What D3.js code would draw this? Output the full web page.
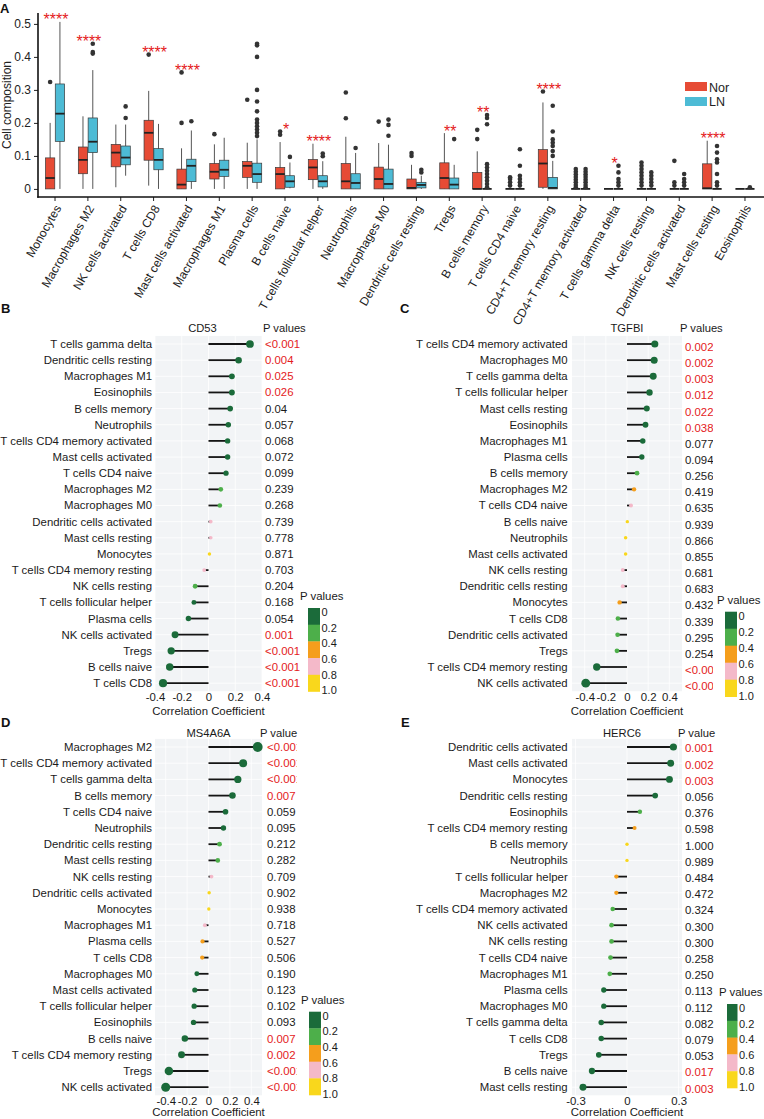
<!DOCTYPE html>
<html>
<head>
<meta charset="utf-8">
<script src="https://cdn.jsdelivr.net/npm/d3@7"></script>
<style>
  body { margin: 0; background: #fff; }
  svg { display: block; font-family: "Liberation Sans", Arial, sans-serif; }
</style>
</head>
<body>
<svg id="fig" width="764" height="1119"></svg>
<script>
// ---------- panel A : immune cell composition, Nor vs LN ----------
var cellTypes = ["Monocytes", "Macrophages M2", "NK cells activated", "T cells CD8", "Mast cells activated",
  "Macrophages M1", "Plasma cells", "B cells naive", "T cells follicular helper", "Neutrophils",
  "Macrophages M0", "Dendritic cells resting", "Tregs", "B cells memory", "T cells CD4 naive",
  "CD4+T memory resting", "CD4+T memory activated", "T cells gamma delta", "NK cells resting",
  "Dendritic cells activated", "Mast cells resting", "Eosinophils"];

// [lower whisker, q1, median, q3, upper whisker]
var norBox = [
  [0, 0, 0.033, 0.094, 0.2], [0, 0.046, 0.088, 0.127, 0.22], [0.005, 0.067, 0.11, 0.135, 0.195],
  [0.01, 0.087, 0.17, 0.208, 0.297], [0, 0, 0.013, 0.06, 0.123], [0, 0.03, 0.052, 0.077, 0.135],
  [0, 0.035, 0.07, 0.083, 0.14], [0, 0, 0.045, 0.065, 0.142], [0, 0.028, 0.065, 0.089, 0.137],
  [0, 0, 0.023, 0.077, 0.158], [0, 0, 0.03, 0.066, 0.139], [0, 0, 0.003, 0.03, 0.073],
  [0, 0, 0.033, 0.079, 0.169], [0, 0, 0, 0.05, 0.114], [0, 0, 0, 0, 0],
  [0, 0.005, 0.077, 0.119, 0.262], [0, 0, 0, 0, 0], [0, 0, 0, 0, 0], [0, 0, 0, 0, 0],
  [0, 0, 0, 0, 0], [0, 0, 0.002, 0.076, 0.146], [0, 0, 0, 0, 0]];
var lnBox = [
  [0, 0.144, 0.228, 0.318, 0.506], [0, 0.11, 0.143, 0.215, 0.36], [0.04, 0.073, 0.095, 0.13, 0.195],
  [0, 0.058, 0.088, 0.122, 0.197], [0, 0.022, 0.07, 0.09, 0.177], [0, 0.038, 0.058, 0.087, 0.155],
  [0, 0.02, 0.045, 0.078, 0.15], [0.002, 0.005, 0.023, 0.04, 0.08], [0, 0.006, 0.023, 0.04, 0.084],
  [0, 0, 0.018, 0.046, 0.109], [0, 0, 0.015, 0.06, 0.134], [0, 0.003, 0.012, 0.02, 0.04],
  [0, 0, 0.013, 0.033, 0.073], [0, 0, 0, 0, 0], [0, 0, 0, 0, 0],
  [0, 0, 0.003, 0.035, 0.085], [0, 0, 0, 0, 0], [0, 0, 0, 0, 0], [0, 0, 0, 0, 0],
  [0, 0, 0, 0, 0], [0, 0, 0, 0, 0], [0, 0, 0, 0, 0]];
var norOut = [[0.324], [], [], [0.407], [0.2, 0.353], [0.166], [0.27], [0.164, 0.174], [], [0.214, 0.292],
  [0.204], [0.1, 0.109], [], [0.151, 0.179], [0.01, 0.02, 0.03, 0.035], [0.295],
  [0.005, 0.012, 0.02, 0.028, 0.036, 0.044, 0.052, 0.06], [], [0.01, 0.02, 0.03, 0.04, 0.05, 0.06, 0.07, 0.08],
  [0.01, 0.02, 0.085], [], []];
var lnOut = [[], [0.41, 0.415, 0.44], [0.215, 0.25], [], [0.205], [],
  [0.16, 0.17, 0.18, 0.19, 0.2, 0.21, 0.235, 0.265, 0.3, 0.4, 0.435, 0.44], [0.097], [0.099, 0.107], [0.124],
  [0.161, 0.194, 0.21], [0.05, 0.058], [0.151],
  [0.005, 0.015, 0.025, 0.035, 0.045, 0.055, 0.065, 0.075, 0.196, 0.215, 0.224],
  [0.01, 0.02, 0.03, 0.04, 0.07, 0.12], [0.1, 0.115, 0.13, 0.14, 0.15, 0.174, 0.252],
  [0.005, 0.012, 0.02, 0.028, 0.036, 0.044, 0.052, 0.06], [0.01, 0.02, 0.03, 0.05, 0.07],
  [0.01, 0.02, 0.03, 0.04, 0.05], [0.01, 0.02, 0.03, 0.045], [0.01, 0.02, 0.045, 0.08, 0.09, 0.11, 0.13], [0.005]];
var sigStars = ["****", "****", "", "****", "****", "", "", "*", "****", "", "", "", "**", "**", "",
  "****", "", "*", "", "", "****", ""];
var groups = ["Nor", "LN"];
var yTicksA = [0, 0.1, 0.2, 0.3, 0.4, 0.5];

// ---------- panels B-E : correlation lollipops ----------
var cd53Cells = ["T cells gamma delta", "Dendritic cells resting", "Macrophages M1", "Eosinophils", "B cells memory",
  "Neutrophils", "T cells CD4 memory activated", "Mast cells activated", "T cells CD4 naive", "Macrophages M2",
  "Macrophages M0", "Dendritic cells activated", "Mast cells resting", "Monocytes", "T cells CD4 memory resting",
  "NK cells resting", "T cells follicular helper", "Plasma cells", "NK cells activated", "Tregs", "B cells naive", "T cells CD8"];
var cd53Cor = [0.31, 0.225, 0.175, 0.175, 0.162, 0.148, 0.143, 0.143, 0.131, 0.092, 0.085, 0.017, 0.017, 0.007,
  -0.032, -0.1, -0.109, -0.15, -0.25, -0.279, -0.29, -0.34];
var cd53P = ["<0.001", "0.004", "0.025", "0.026", "0.04", "0.057", "0.068", "0.072", "0.099", "0.239", "0.268",
  "0.739", "0.778", "0.871", "0.703", "0.204", "0.168", "0.054", "0.001", "<0.001", "<0.001", "<0.001"];
var cd53Red = [1, 1, 1, 1, 0, 0, 0, 0, 0, 0, 0, 0, 0, 0, 0, 0, 0, 0, 1, 1, 1, 1];

var tgfbiCells = ["T cells CD4 memory activated", "Macrophages M0", "T cells gamma delta", "T cells follicular helper",
  "Mast cells resting", "Eosinophils", "Macrophages M1", "Plasma cells", "B cells memory", "Macrophages M2",
  "T cells CD4 naive", "B cells naive", "Neutrophils", "Mast cells activated", "NK cells resting",
  "Dendritic cells resting", "Monocytes", "T cells CD8", "Dendritic cells activated", "Tregs",
  "T cells CD4 memory resting", "NK cells activated"];
var tgfbiCor = [0.263, 0.257, 0.248, 0.213, 0.187, 0.175, 0.149, 0.14, 0.095, 0.067, 0.038, 0.003, -0.013, -0.013,
  -0.04, -0.04, -0.07, -0.086, -0.089, -0.095, -0.286, -0.39];
var tgfbiP = ["0.002", "0.002", "0.003", "0.012", "0.022", "0.038", "0.077", "0.094", "0.256", "0.419", "0.635",
  "0.939", "0.866", "0.855", "0.681", "0.683", "0.432", "0.339", "0.295", "0.254", "<0.001", "<0.001"];
var tgfbiRed = [1, 1, 1, 1, 1, 1, 0, 0, 0, 0, 0, 0, 0, 0, 0, 0, 0, 0, 0, 0, 1, 1];

var ms4Cells = ["Macrophages M2", "T cells CD4 memory activated", "T cells gamma delta", "B cells memory",
  "T cells CD4 naive", "Neutrophils", "Dendritic cells resting", "Mast cells resting", "NK cells resting",
  "Dendritic cells activated", "Monocytes", "Macrophages M1", "Plasma cells", "T cells CD8", "Macrophages M0",
  "Mast cells activated", "T cells follicular helper", "Eosinophils", "B cells naive", "T cells CD4 memory resting",
  "Tregs", "NK cells activated"];
var ms4Cor = [0.46, 0.324, 0.274, 0.224, 0.159, 0.14, 0.103, 0.087, 0.028, 0.006, 0.003, -0.034, -0.056, -0.059,
  -0.109, -0.128, -0.134, -0.14, -0.221, -0.252, -0.37, -0.4];
var ms4P = ["<0.001", "<0.001", "<0.001", "0.007", "0.059", "0.095", "0.212", "0.282", "0.709", "0.902", "0.938",
  "0.718", "0.527", "0.506", "0.190", "0.123", "0.102", "0.093", "0.007", "0.002", "<0.001", "<0.001"];
var ms4Red = [1, 1, 1, 1, 0, 0, 0, 0, 0, 0, 0, 0, 0, 0, 0, 0, 0, 0, 1, 1, 1, 1];

var herc6Cells = ["Dendritic cells activated", "Mast cells activated", "Monocytes", "Dendritic cells resting",
  "Eosinophils", "T cells CD4 memory resting", "B cells memory", "Neutrophils", "T cells follicular helper",
  "Macrophages M2", "T cells CD4 memory activated", "NK cells activated", "NK cells resting", "T cells CD4 naive",
  "Macrophages M1", "Plasma cells", "Macrophages M0", "T cells gamma delta", "T cells CD8", "Tregs",
  "B cells naive", "Mast cells resting"];
var herc6Cor = [0.27, 0.254, 0.247, 0.164, 0.075, 0.044, 0.0, 0.0, -0.062, -0.062, -0.083, -0.09, -0.09, -0.096,
  -0.1, -0.135, -0.135, -0.15, -0.15, -0.164, -0.204, -0.256];
var herc6P = ["0.001", "0.002", "0.003", "0.056", "0.376", "0.598", "1.000", "0.989", "0.484", "0.472", "0.324",
  "0.300", "0.300", "0.258", "0.250", "0.113", "0.112", "0.082", "0.079", "0.053", "0.017", "0.003"];
var herc6Red = [1, 1, 1, 0, 0, 0, 0, 0, 0, 0, 0, 0, 0, 0, 0, 0, 0, 0, 0, 0, 1, 1];

var pBreaks = ["0", "0.2", "0.4", "0.6", "0.8", "1.0"];

// ---------- drawing ----------
var svg = d3.select("#fig");
var red = "#E41A1C";
var boxFill = ["#E64B35", "#4DBBD5"];
var pColors = ["#1B6B3A", "#4DAF4A", "#F59E1C", "#F4B9C9", "#F9D71C"];
var pColor = d3.scaleThreshold().domain([0.2, 0.4, 0.6, 0.8]).range(pColors);

// panel A
var xA = d3.scaleBand().domain(cellTypes).range([38.6, 761.4]);
var yA = d3.scaleLinear().domain([-0.0245, 0.533]).range([197, 13]);
var sub = d3.scaleBand().domain(groups).range([-9.8, 9.8]);
var bw = sub.bandwidth() * 0.95;

var gA = svg.append("g");

cellTypes.forEach(function(c, i) {
  [norBox[i], lnBox[i]].forEach(function(s, gi) {
    var cx = xA(c) + xA.bandwidth() / 2 + sub(groups[gi]) + sub.bandwidth() / 2;
    var outs = gi === 0 ? norOut[i] : lnOut[i];
    // whiskers
    gA.append("line").attr("x1", cx).attr("x2", cx).attr("y1", yA(s[0])).attr("y2", yA(s[4]))
      .attr("stroke", "#555").attr("stroke-width", 1);
    // box
    gA.append("rect").attr("x", cx - bw / 2).attr("width", bw)
      .attr("y", yA(s[3])).attr("height", Math.max(0, yA(s[1]) - yA(s[3])))
      .attr("fill", boxFill[gi]).attr("stroke", "#3a3a3a").attr("stroke-width", 0.7);
    gA.append("line").attr("x1", cx - bw / 2).attr("x2", cx + bw / 2)
      .attr("y1", yA(s[2])).attr("y2", yA(s[2])).attr("stroke", "#222").attr("stroke-width", 1.8);
    // outliers
    gA.selectAll(null).data(outs).enter().append("circle")
      .attr("cx", cx).attr("cy", function(d) { return yA(d); }).attr("r", 2.3).attr("fill", "#333");
  });
  if (sigStars[i]) {
    var mx = d3.max([norBox[i][4], lnBox[i][4]].concat(norOut[i], lnOut[i]));
    gA.append("text").attr("x", xA(c) + xA.bandwidth() / 2 + 1).attr("y", yA(mx) + 3.5)
      .attr("text-anchor", "middle").attr("font-size", 16).attr("fill", red).text(sigStars[i]);
  }
});

// axes A
var yAxisA = gA.append("g").attr("transform", "translate(38,0)")
  .call(d3.axisLeft(yA).tickValues(yTicksA).tickSize(4).tickSizeOuter(0)
    .tickFormat(function(d) { return d === 0 ? "0" : d3.format(".1f")(d); }));
yAxisA.select(".domain").remove();
yAxisA.selectAll("text").attr("font-size", 12).attr("fill", "#222").attr("font-family", "Liberation Sans, Arial");
yAxisA.selectAll("line").attr("stroke", "#222");

var xAxisA = gA.append("g").attr("transform", "translate(0,197)")
  .call(d3.axisBottom(xA).tickSize(4).tickSizeOuter(0));
xAxisA.select(".domain").remove();
xAxisA.selectAll("line").attr("stroke", "#222");
xAxisA.selectAll("text").attr("x", 0).attr("y", 0).attr("dy", "0.35em")
  .attr("text-anchor", "end").attr("transform", "translate(3,9) rotate(-60)")
  .attr("font-size", 12).attr("fill", "#222").attr("font-family", "Liberation Sans, Arial");

gA.append("line").attr("x1", 38).attr("x2", 38).attr("y1", 13).attr("y2", 197.8)
  .attr("stroke", "#111").attr("stroke-width", 1.6);
gA.append("line").attr("x1", 37.2).attr("x2", 764).attr("y1", 197).attr("y2", 197)
  .attr("stroke", "#111").attr("stroke-width", 1.6);

gA.append("text").attr("transform", "translate(11,105) rotate(-90)").attr("text-anchor", "middle")
  .attr("font-size", 12).attr("fill", "#222").text("Cell composition");

// legend A
groups.forEach(function(g, gi) {
  gA.append("rect").attr("x", 685).attr("y", 82 + gi * 15).attr("width", 22).attr("height", 9)
    .attr("fill", boxFill[gi]);
  gA.append("text").attr("x", 709).attr("y", 91.5 + gi * 14.5).attr("font-size", 12.5)
    .attr("fill", "#222").text(g);
});

// panel letters
function letter(t, x, y) {
  svg.append("text").attr("x", x).attr("y", y).attr("font-size", 13).attr("font-weight", "bold")
    .attr("fill", "#111").text(t);
}
letter("A", 0, 13);

// lollipop panels
function lollipop(p) {
  var g = svg.append("g");
  var n = p.cells.length;
  var yS = d3.scaleBand().domain(p.cells).range([p.y0 - p.step / 2, p.y0 - p.step / 2 + p.step * n]);
  var xS = d3.scaleLinear().domain(p.domain).range(p.xr);
  var r = d3.scaleLinear().domain([0, 0.5]).range([1.7, 5.2]);
  var top = yS.range()[0], bot = yS.range()[1];
  var yc = function(c) { return yS(c) + yS.bandwidth() / 2; };

  g.append("rect").attr("x", p.xr[0]).attr("y", top).attr("width", p.xr[1] - p.xr[0])
    .attr("height", bot - top).attr("fill", "#F2F4F6");
  g.selectAll(null).data(p.cells).enter().append("line")
    .attr("x1", p.xr[0]).attr("x2", p.xr[1])
    .attr("y1", function(c) { return yc(c); }).attr("y2", function(c) { return yc(c); })
    .attr("stroke", "#fff").attr("stroke-width", 0.8);
  g.selectAll(null).data(p.ticks).enter().append("line")
    .attr("x1", function(d) { return xS(d); }).attr("x2", function(d) { return xS(d); })
    .attr("y1", top).attr("y2", bot).attr("stroke", "#fff").attr("stroke-width", 0.8);

  // stems and dots
  p.cells.forEach(function(c, i) {
    g.append("line").attr("x1", xS(0)).attr("x2", xS(p.cor[i])).attr("y1", yc(c)).attr("y2", yc(c))
      .attr("stroke", "#151515").attr("stroke-width", 1.8);
  });
  p.cells.forEach(function(c, i) {
    var pv = +p.pText[i].replace("<", "");
    g.append("circle").attr("cx", xS(p.cor[i])).attr("cy", yc(c)).attr("r", r(Math.abs(p.cor[i])))
      .attr("fill", pColor(pv));
  });

  // row labels
  g.selectAll(null).data(p.cells).enter().append("text")
    .attr("x", p.labelX).attr("y", function(c) { return yc(c); }).attr("dy", "0.35em")
    .attr("text-anchor", "end").attr("font-size", 11.4).attr("fill", "#1a1a1a")
    .text(function(c) { return c; });

  // p values
  var clipId = "clip" + p.letter;
  g.append("clipPath").attr("id", clipId).append("rect")
    .attr("x", p.pX - 5).attr("y", top - 30).attr("width", p.clipX - p.pX + 5).attr("height", bot - top + 60);
  g.append("g").attr("clip-path", "url(#" + clipId + ")")
    .selectAll("text").data(p.pText).enter().append("text")
    .attr("x", p.pX).attr("y", function(d, i) { return yc(p.cells[i]) + p.pDy; }).attr("dy", "0.35em")
    .attr("font-size", 11.4).attr("fill", function(d, i) { return p.red[i] ? red : "#1a1a1a"; })
    .text(function(d) { return d; });

  // headers
  g.append("text").attr("x", (p.xr[0] + p.xr[1]) / 2 + p.titleDx).attr("y", p.titleY)
    .attr("text-anchor", "middle").attr("font-size", 11.2).attr("fill", "#1a1a1a").text(p.title);
  g.append("text").attr("x", p.headerX).attr("y", p.titleY)
    .attr("font-size", 11.2).attr("fill", "#1a1a1a").text(p.header);

  // x axis
  var ax = g.append("g").attr("transform", "translate(0," + bot + ")")
    .call(d3.axisBottom(xS).tickValues(p.ticks).tickSize(0).tickPadding(1.5)
      .tickFormat(function(d) { return d === 0 ? "0" : String(d); }));
  ax.select(".domain").remove();
  ax.selectAll("text").attr("font-size", 11.4).attr("fill", "#1a1a1a")
    .attr("font-family", "Liberation Sans, Arial");
  g.append("text").attr("x", (p.xr[0] + p.xr[1]) / 2).attr("y", Math.min(bot + 23.5, 1115.5))
    .attr("text-anchor", "middle").attr("font-size", 11.4).attr("fill", "#1a1a1a")
    .text("Correlation Coefficient");

  // p value legend
  var L = p.leg, bh = L.h / pColors.length;
  g.append("text").attr("x", L.x - 8).attr("y", L.top - 8).attr("font-size", 11.4)
    .attr("fill", "#1a1a1a").text("P values");
  g.selectAll(null).data(pColors).enter().append("rect")
    .attr("x", L.x).attr("y", function(d, i) { return L.top + i * bh; })
    .attr("width", L.w).attr("height", bh + 0.3).attr("fill", function(d) { return d; });
  g.selectAll(null).data(pBreaks).enter().append("text")
    .attr("x", L.x + L.w + 1.5).attr("y", function(d, i) { return L.top + 4 + i * (L.h - 5) / 5; })
    .attr("dy", "0.35em").attr("font-size", 11).attr("fill", "#1a1a1a").text(function(d) { return d; });

  letter(p.letter, p.lx, p.ly);
}

lollipop({ cells: cd53Cells, cor: cd53Cor, pText: cd53P, red: cd53Red, title: "CD53", header: "P values",
  xr: [155, 262], domain: [-0.4, 0.4], ticks: [-0.4, -0.2, 0, 0.2, 0.4], y0: 344, step: 16.15,
  labelX: 152, titleY: 332, titleDx: -6, headerX: 263, pX: 265, pDy: 0, clipX: 380,
  leg: { x: 308, top: 608, h: 83.5, w: 12 }, letter: "B", lx: 1, ly: 313 });

lollipop({ cells: tgfbiCells, cor: tgfbiCor, pText: tgfbiP, red: tgfbiRed, title: "TGFBI", header: "P values",
  xr: [572, 682], domain: [-0.52, 0.52], ticks: [-0.4, -0.2, 0, 0.2, 0.4], y0: 344, step: 16.15,
  labelX: 567.7, titleY: 332, titleDx: 0, headerX: 680, pX: 685, pDy: 3, clipX: 713,
  leg: { x: 725, top: 611.7, h: 85, w: 12 }, letter: "C", lx: 400, ly: 313 });

lollipop({ cells: ms4Cells, cor: ms4Cor, pText: ms4P, red: ms4Red, title: "MS4A6A", header: "P value",
  xr: [155, 262], domain: [-0.5, 0.5], ticks: [-0.4, -0.2, 0, 0.2, 0.4], y0: 747, step: 16.2,
  labelX: 152, titleY: 737, titleDx: 0, headerX: 260, pX: 267, pDy: 0, clipX: 297,
  leg: { x: 309, top: 1011.7, h: 83.3, w: 12 }, letter: "D", lx: 1, ly: 727 });

lollipop({ cells: herc6Cells, cor: herc6Cor, pText: herc6P, red: herc6Red, title: "HERC6", header: "P value",
  xr: [572, 682], domain: [-0.32, 0.32], ticks: [-0.3, 0, 0.3], y0: 747, step: 16.2,
  labelX: 567.7, titleY: 737, titleDx: -5, headerX: 678, pX: 685, pDy: 1.5, clipX: 764,
  leg: { x: 727, top: 1004, h: 84, w: 10.5 }, letter: "E", lx: 401, ly: 727 });
</script>
</body>
</html>
